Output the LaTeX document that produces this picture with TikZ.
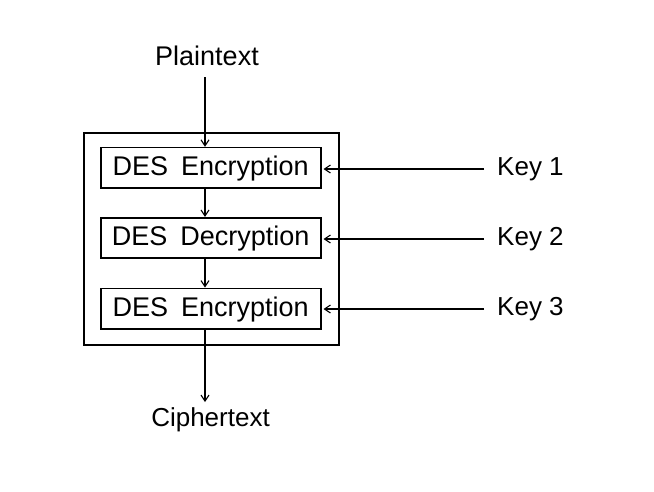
\documentclass[tikz,border=0pt]{standalone}
\usepackage{fontspec}
\setmainfont{Liberation Sans}
\usetikzlibrary{arrows.meta}
\begin{document}
\begin{tikzpicture}[x=1pt,y=-1pt,
  lbl/.style={font=\fontsize{26}{30}\selectfont, inner sep=0pt, anchor=base},
  desbox/.style={draw, line width=1.6pt, minimum width=220pt, inner sep=0pt,
    text height=28pt, text depth=12.5pt, font=\fontsize{27}{30}\selectfont},
  flow/.style={line width=1.6pt, -{Straight Barb[length=6pt,width=8pt,line width=1.1pt]}},
  keyline/.style={line width=1.8pt, -{Straight Barb[length=6pt,width=8pt,line width=1.1pt]}}]
\useasboundingbox (0,0) rectangle (654,491);
\node[draw, line width=1.6pt, minimum width=255pt, minimum height=212pt, inner sep=0pt] (outer) at (211.5,239) {};
\node[desbox] (e1) at (210.7,167.8) {DES\hspace{13pt}Encryption};
\node[desbox] (d2) at (210.7,238) {DES\hspace{13pt}Decryption};
\node[desbox] (e3) at (210.7,308.6) {DES\hspace{13pt}Encryption};
\node[lbl, font=\fontsize{27}{30}\selectfont] (pt) at (207,65.5) {Plaintext};
\node[lbl] (ct) at (210.5,426.7) {Ciphertext};
\node[lbl, anchor=base west] (k1) at (497,175.5) {Key 1};
\node[lbl, anchor=base west] (k2) at (497,245.5) {Key 2};
\node[lbl, anchor=base west] (k3) at (497,315.5) {Key 3};
\coordinate (p0) at (205,77);
\coordinate (c0) at (205,402);
\coordinate (q1) at (484,169);
\coordinate (q2) at (484,239);
\coordinate (q3) at (484,309);
\draw[flow] (p0) -- (e1.north -| p0);
\draw[flow] (e1.south -| p0) -- (d2.north -| p0);
\draw[flow] (d2.south -| p0) -- (e3.north -| p0);
\draw[flow] (e3.south -| p0) -- (c0);
\draw[keyline] (q1) -- ([xshift=2pt]e1.east |- q1);
\draw[keyline] (q2) -- ([xshift=2pt]d2.east |- q2);
\draw[keyline] (q3) -- ([xshift=2pt]e3.east |- q3);
\end{tikzpicture}
\end{document}
